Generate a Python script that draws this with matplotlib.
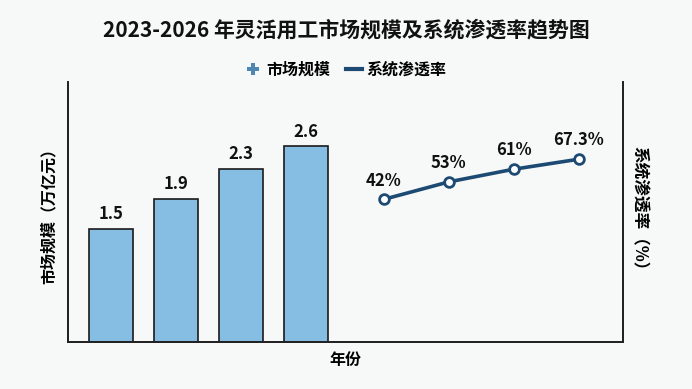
import matplotlib
matplotlib.use("Agg")
import matplotlib.pyplot as plt
from matplotlib.lines import Line2D

plt.rcParams['font.family'] = ['Noto Sans CJK SC', 'DejaVu Sans']

years = ["2023", "2024", "2025", "2026"]
market_size = [1.5, 1.9, 2.3, 2.6]          # 万亿元
penetration = [42, 53, 61, 67.3]            # %
size_labels = ["1.5", "1.9", "2.3", "2.6"]
pen_labels = ["42%", "53%", "61%", "67.3%"]

bar_color = "#86bde2"
line_color = "#1d4a73"
bg = "#f7f8f8"

fig = plt.figure(figsize=(6.92, 3.89), dpi=100, facecolor=bg)
ax = fig.add_axes([68/692, 1-342/389, (623-68)/692, (342-82)/389])
ax.set_facecolor(bg)

bar_x = [i for i in range(len(years))]
line_x = [i + 4.2 for i in range(len(years))]

ax.bar(bar_x, market_size, width=0.68, color=bar_color,
       edgecolor="#1a1a1a", linewidth=1.2, zorder=2)
for x, v, lab in zip(bar_x, market_size, size_labels):
    ax.annotate(lab, (x, v), xytext=(0, 4), textcoords="offset points",
                ha="center", va="bottom", fontsize=12, fontweight="bold",
                color="#111111")
ax.set_xlim(-0.66, 7.88)
ax.set_ylim(0, 3.45)

ax2 = ax.twinx()
ax2.plot(line_x, penetration, color=line_color, lw=2.6, marker="o",
         markersize=7, markerfacecolor="white", markeredgecolor=line_color,
         markeredgewidth=2, zorder=3)
for x, v, lab in zip(line_x, penetration, pen_labels):
    ax2.annotate(lab, (x, v), xytext=(0, 7), textcoords="offset points",
                 ha="center", va="bottom", fontsize=12, fontweight="bold",
                 color="#111111")
ax2.set_ylim(-48, 116)

for a in (ax, ax2):
    a.spines['top'].set_visible(False)
    for s in ('left', 'right', 'bottom'):
        a.spines[s].set_linewidth(1.3)
        a.spines[s].set_color("#222222")
    a.set_xticks([])
    a.set_yticks([])

ax.set_ylabel("市场规模（万亿元）", fontsize=11.5, fontweight="bold", labelpad=8)
ax2.set_ylabel("系统渗透率（%）", fontsize=12, fontweight="bold",
               rotation=270, labelpad=18)
ax.set_xlabel("年份", fontsize=11.5, fontweight="bold", labelpad=7)

fig.suptitle("2023-2026 年灵活用工市场规模及系统渗透率趋势图", x=0.5, y=1-30/389,
             va="center", fontsize=15, fontweight="bold", color="#111111")

handles = [
    Line2D([], [], linestyle="none", marker="P", markersize=8,
           color="#4f86b3", markeredgewidth=0),
    Line2D([], [], color=line_color, lw=3),
]
fig.legend(handles, ["市场规模", "系统渗透率"], loc="center",
           bbox_to_anchor=(0.5, 1-70/389), ncol=2, frameon=False,
           prop={'weight': 'bold', 'size': 11.5}, handlelength=1.0,
           handletextpad=0.3, columnspacing=1.0)

fig.savefig("out.png", dpi=100, facecolor=bg)
